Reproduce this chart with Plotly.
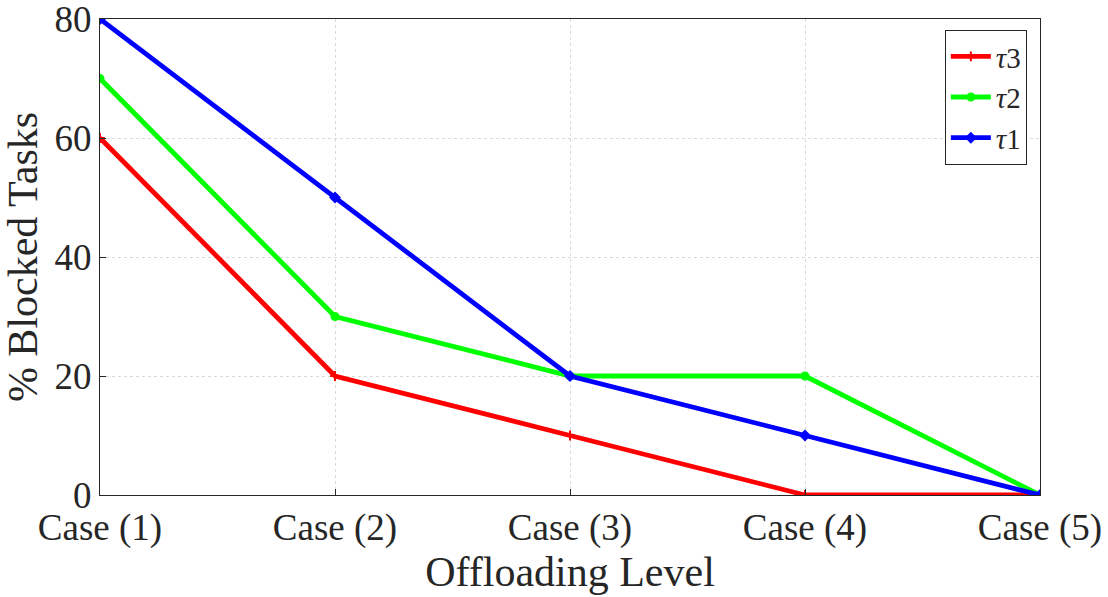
import plotly.graph_objects as go

categories = ["Case (1)", "Case (2)", "Case (3)", "Case (4)", "Case (5)"]
tau3 = [60, 20, 10, 0, 0]
tau2 = [70, 30, 20, 20, 0]
tau1 = [80, 50, 20, 10, 0]
y_ticks = [0, 20, 40, 60, 80]

x_idx = list(range(len(categories)))
FONT = "Liberation Serif, Times New Roman, serif"

fig = go.Figure()
series = [
    ("<i>τ</i>3", tau3, "#ff0000", "cross-thin"),
    ("<i>τ</i>2", tau2, "#00ff00", "circle"),
    ("<i>τ</i>1", tau1, "#0000ff", "diamond"),
]
for name, vals, col, sym in series:
    fig.add_trace(go.Scatter(
        x=x_idx, y=vals, mode="lines+markers", name=name,
        line=dict(color=col, width=4.8),
        marker=dict(symbol=sym, size=7, color=col, line=dict(color=col, width=2)),
    ))

fig.update_layout(
    width=1108, height=597,
    margin=dict(l=100, r=68, t=19, b=102),
    paper_bgcolor="white", plot_bgcolor="white",
    font=dict(family=FONT, size=37, color="#262626"),
    showlegend=True,
    legend=dict(
        x=0.986, y=0.977, xanchor="right", yanchor="top",
        bgcolor="white", bordercolor="#262626", borderwidth=1,
        font=dict(family=FONT, size=29, color="#262626"),
        itemwidth=40, tracegroupgap=0,
    ),
)
fig.update_xaxes(
    range=[0, 4], tickvals=x_idx, ticktext=categories,
    showgrid=True, gridcolor="#d9d9d9", griddash="dot", gridwidth=1,
    showline=True, linecolor="#262626", linewidth=1, mirror=True,
    ticks="inside", ticklen=6, tickcolor="#262626",
    tickfont=dict(family=FONT, size=37, color="#262626"),
    ticklabeloverflow="allow",
    title=dict(text="Offloading Level", font=dict(family=FONT, size=42, color="#262626"), standoff=0),
    zeroline=False, automargin=False,
)
fig.update_yaxes(
    range=[0, 80], tickvals=y_ticks,
    showgrid=True, gridcolor="#d9d9d9", griddash="dot", gridwidth=1,
    showline=True, linecolor="#262626", linewidth=1, mirror=True,
    ticks="inside", ticklen=6, tickcolor="#262626",
    tickfont=dict(family=FONT, size=37, color="#262626"),
    ticklabeloverflow="allow",
    title=dict(text="% Blocked Tasks", font=dict(family=FONT, size=42, color="#262626"), standoff=10),
    zeroline=False, automargin=False,
)

fig.write_html("out.html", config={"displayModeBar": False},
               post_script="document.body.style.margin='0';")
